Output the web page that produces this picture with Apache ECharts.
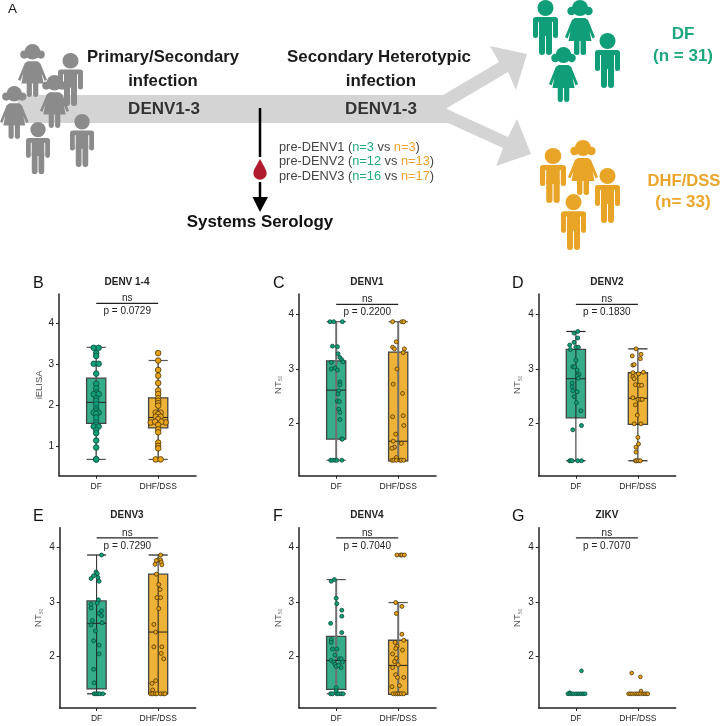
<!DOCTYPE html>
<html><head><meta charset="utf-8">
<style>html,body{margin:0;padding:0;background:#fff}#c{width:720px;height:726px}</style>
<script src="https://cdn.jsdelivr.net/npm/echarts@6/dist/echarts.min.js"></script>
</head><body><div id="c"></div>
<script>
const categories = ['DF', 'DHF/DSS'];
const panelNames = ['DENV 1-4', 'DENV1', 'DENV2', 'DENV3', 'DENV4', 'ZIKV'];
const panelLetters = ['B', 'C', 'D', 'E', 'F', 'G'];
const pValues = ['p = 0.0729', 'p = 0.2200', 'p = 0.1830', 'p = 0.7290', 'p = 0.7040', 'p = 0.7070'];
const yTickValues = [[1, 2, 3, 4], [2, 3, 4], [2, 3, 4], [2, 3, 4], [2, 3, 4], [2, 3, 4]];

// box summaries: [low whisker, q1, median, q3, high whisker]
const boxB = [[0.69, 1.57, 2.08, 2.67, 3.42], [0.69, 1.46, 1.71, 2.19, 3.10]];
const boxC = [[1.32, 1.71, 2.61, 3.15, 3.87], [1.31, 1.31, 1.67, 3.31, 3.87]];
const boxD = [[1.31, 2.10, 2.82, 3.36, 3.69], [1.31, 1.98, 2.46, 2.93, 3.37]];
const boxE = [[1.32, 1.41, 2.61, 3.02, 3.86], [1.32, 1.32, 2.45, 3.51, 3.86]];
const boxF = [[1.32, 1.40, 1.93, 2.37, 3.41], [1.31, 1.31, 1.84, 2.30, 2.99]];
const boxG = [null, null];

// points: [sideways spread in category units, value]
const ptsB_DF = [[-.04,3.41],[.04,3.41],[0,3.28],[0,3.21],[-.04,3.02],[.04,3.02],[0,2.78],[0,2.53],[0,2.42],[0,2.32],[-.04,2.28],[.04,2.28],[0,2.18],[0,2.12],[0,2.03],[0,1.93],[0,1.88],[-.04,1.83],[.04,1.83],[0,1.80],[0,1.61],[0,1.53],[-.04,1.49],[.04,1.49],[0,1.41],[0,1.33],[0,1.15],[0,.98],[0,.69],[0,.69],[0,1.71]];
const ptsB_DHF = [[0,3.28],[0,3.10],[0,2.87],[0,2.73],[0,2.55],[0,2.37],[0,2.28],[0,2.18],[0,2.12],[0,2.06],[0,2.0],[-.04,1.83],[.04,1.83],[0,1.79],[-.04,1.73],[.04,1.73],[0,1.67],[-.12,1.59],[.12,1.59],[-.05,1.61],[.05,1.61],[0,1.53],[0,1.42],[0,1.35],[0,1.10],[0,1.02],[0,.96],[-.04,.69],[.04,.69]];
const ptsC_DF = [[-.1,3.87],[-.04,3.87],[.1,3.87],[-.06,3.42],[.02,3.41],[.03,3.28],[.06,3.21],[.09,3.17],[.11,3.13],[-.08,3.12],[-.08,3.0],[-.02,3.02],[.02,2.98],[.06,2.76],[.06,2.71],[.04,2.6],[.03,2.54],[.02,2.41],[.05,2.40],[.04,2.26],[.06,2.2],[.06,2.07],[.09,1.71],[.1,1.71],[-.09,1.32],[-.06,1.32],[-.02,1.32],[.01,1.32],[.09,1.32]];
const ptsC_DHF = [[-.09,3.87],[.06,3.87],[.09,3.87],[-.03,3.50],[-.09,3.40],[-.06,3.37],[.1,3.37],[.08,3.30],[-.02,3.0],[-.08,2.72],[.07,2.55],[.08,2.14],[-.09,2.12],[.09,1.96],[-.04,1.80],[-.08,1.67],[.05,1.63],[-.06,1.56],[-.1,1.54],[-.03,1.37],[-.1,1.32],[-.07,1.32],[-.03,1.32],[.03,1.32],[.05,1.32],[.09,1.32]];
const ptsD_DF = [[-.03,3.66],[.03,3.69],[.03,3.57],[-.03,3.49],[0,3.40],[.04,3.40],[-.1,3.44],[-.09,3.36],[0,3.16],[-.05,3.04],[-.02,3.04],[.02,2.98],[.05,2.9],[.02,2.87],[.04,2.83],[-.06,2.74],[-.06,2.67],[-.05,2.6],[.02,2.58],[-.03,2.49],[.01,2.38],[.08,2.23],[.09,1.96],[-.05,1.88],[-.1,1.31],[-.08,1.31],[-.06,1.31],[.03,1.31],[.09,1.31]];
const ptsD_DHF = [[-.03,3.37],[-.09,3.24],[.05,3.27],[.04,3.19],[-.08,3.07],[-.06,3.08],[-.08,2.93],[.09,2.94],[.01,2.91],[-.08,2.86],[-.06,2.82],[-.04,2.71],[.02,2.70],[.06,2.7],[-.08,2.47],[0,2.44],[.04,2.44],[.07,2.44],[-.04,2.34],[-.01,2.15],[-.06,1.99],[.05,1.99],[0,1.74],[.01,1.62],[-.03,1.56],[-.03,1.47],[-.04,1.31],[-.02,1.31],[.01,1.31],[.04,1.31]];
const ptsE_DF = [[.08,3.86],[-.01,3.55],[.01,3.52],[-.05,3.48],[-.09,3.43],[.02,3.45],[.04,3.38],[.03,3.04],[.01,2.98],[-.09,2.96],[-.09,2.89],[.08,2.84],[.04,2.79],[.08,2.75],[.09,2.62],[-.07,2.66],[-.09,2.58],[-.02,2.47],[-.05,2.29],[.04,2.21],[.04,2.05],[-.05,1.77],[-.04,1.52],[-.04,1.32],[-.01,1.32],[.02,1.32],[.05,1.32],[.1,1.32]];
const ptsE_DHF = [[.04,3.86],[0,3.77],[-.03,3.76],[.04,3.77],[-.05,3.69],[.05,3.73],[.06,3.68],[-.03,3.51],[.01,3.32],[.03,3.23],[-.02,3.08],[.04,3.08],[.01,2.88],[-.07,2.59],[-.04,2.45],[-.07,2.18],[.06,2.18],[.05,2.06],[.09,1.96],[-.04,1.56],[-.1,1.51],[-.09,1.39],[-.12,1.32],[-.09,1.32],[-.05,1.32],[-.02,1.32],[.04,1.32],[.08,1.32],[.11,1.32]];
const ptsF_DF = [[-.03,3.41],[-.08,3.38],[0,3.07],[.01,2.97],[.09,2.85],[.09,2.74],[-.09,2.61],[.09,2.44],[-.08,2.31],[-.08,2.26],[-.06,2.14],[.01,2.14],[-.02,2.03],[-.08,1.93],[.05,1.96],[.08,1.96],[-.04,1.90],[.1,1.90],[-.02,1.86],[.08,1.8],[0,1.82],[.04,1.84],[0,1.43],[0,1.37],[-.09,1.32],[-.06,1.32],[.01,1.32],[.04,1.32],[.08,1.32],[.11,1.32]];
const ptsF_DHF = [[-.02,3.86],[.04,3.86],[.06,3.86],[.1,3.86],[-.04,2.99],[.06,2.92],[-.03,2.79],[.06,2.41],[.09,2.30],[-.05,2.26],[-.02,2.19],[-.04,2.15],[.07,2.12],[-.09,2.05],[-.03,1.97],[-.06,1.91],[0,1.85],[-.09,1.8],[-.04,1.67],[-.01,1.62],[.09,1.62],[.02,1.47],[-.1,1.45],[-.08,1.32],[-.04,1.32],[-.01,1.32],[.02,1.32],[.05,1.32],[.09,1.32]];
const ptsG_DF = [[.09,1.74],[-.1,1.34],[-.13,1.32],[-.1,1.32],[-.07,1.32],[-.04,1.32],[0,1.32],[.03,1.32],[.06,1.32],[.09,1.32],[.12,1.32],[.15,1.32]];
const ptsG_DHF = [[-.1,1.70],[.04,1.63],[.05,1.37],[-.15,1.32],[-.12,1.32],[-.09,1.32],[-.05,1.32],[-.02,1.32],[.01,1.32],[.04,1.32],[.08,1.32],[.11,1.32],[.14,1.32],[.16,1.32]];

const boxes = [boxB, boxC, boxD, boxE, boxF, boxG];
const points = [[ptsB_DF, ptsB_DHF], [ptsC_DF, ptsC_DHF], [ptsD_DF, ptsD_DHF], [ptsE_DF, ptsE_DHF], [ptsF_DF, ptsF_DHF], [ptsG_DF, ptsG_DHF]];

const layouts = [
  {l:59, t:294, w:137, h:181.7, ymin:.293, ymax:4.72, br:4.49, dot:5.6, stem:'#555', sw:1.5, tx:127, lx:33, ly:276, yname:'iELISA', ng:14},
  {l:299, t:294, w:137, h:181.7, ymin:1.035, ymax:4.38, br:4.19, dot:4, stem:'#6f6f6f', sw:2, tx:367, lx:273, ly:276, yname:'NT{s|50}', ng:16},
  {l:538.7, t:294, w:137, h:181.7, ymin:1.035, ymax:4.38, br:4.19, dot:4, stem:'#222', sw:1, tx:607, lx:512, ly:276, yname:'NT{s|50}', ng:16},
  {l:59.7, t:527.7, w:136, h:180.3, ymin:1.06, ymax:4.36, br:4.175, dot:4, stem:'#222', sw:1, tx:127, lx:33, ly:509, yname:'NT{s|50}', ng:16},
  {l:299, t:527.7, w:137, h:180.3, ymin:1.06, ymax:4.36, br:4.175, dot:4, stem:'#6f6f6f', sw:2, tx:367, lx:273, ly:509, yname:'NT{s|50}', ng:16},
  {l:538.7, t:527.7, w:137, h:180.3, ymin:1.06, ymax:4.36, br:4.175, dot:3.7, stem:'#222', sw:1, tx:607, lx:512, ly:509, yname:'NT{s|50}', ng:16}
];
const GREEN='#0f9e78', ORANGE='#e9a319', FONT='"Liberation Sans", Arial, sans-serif';
const BOXFILL=['#35ad8a','#eeb236'], DOTEDGE=['#0b4c3b','#4a360a'];

const grid=[], xAxis=[], yAxis=[], series=[], title=[];
layouts.forEach((p,i)=>{
  grid.push({left:p.l, top:p.t, width:p.w, height:p.h});
  xAxis.push({gridIndex:i, type:'value', min:.4, max:2.61, splitLine:{show:false},
    axisLine:{lineStyle:{color:'#222',width:1.5}}, axisTick:{length:3,lineStyle:{color:'#222',width:1},customValues:[1,2]},
    axisLabel:{customValues:[1,2], margin:6, fontSize:8.5, color:'#222', fontFamily:FONT, formatter:v=>categories[v-1]||''}});
  yAxis.push({gridIndex:i, type:'value', min:p.ymin, max:p.ymax, splitLine:{show:false},
    name:p.yname, nameLocation:'middle', nameGap:p.ng, nameRotate:90,
    nameTextStyle:{fontSize:9.5,color:'#555',fontFamily:FONT,rich:{s:{fontSize:5,color:'#777',fontFamily:FONT,verticalAlign:'bottom'}}},
    axisLine:{show:true,lineStyle:{color:'#222',width:1.5}}, axisTick:{show:true,length:3,lineStyle:{color:'#222',width:1},customValues:yTickValues[i]},
    axisLabel:{customValues:yTickValues[i], margin:5, fontSize:10, color:'#222', fontFamily:FONT}});
  title.push({text:panelNames[i], left:p.tx, top:p.t-17, textAlign:'center', padding:0,
    textStyle:{fontSize:10,fontWeight:'bold',color:'#222',fontFamily:FONT}});
  title.push({text:panelLetters[i], left:p.lx, top:p.ly, padding:0,
    textStyle:{fontSize:16,fontWeight:'normal',color:'#111',fontFamily:FONT}});
  categories.forEach((c,k)=>{
    const b=boxes[i][k];
    if(b) series.push({type:'custom', name:c+' box', xAxisIndex:i, yAxisIndex:i, z:2, silent:true,
      data:[[k+1,...b]], encode:{x:0,y:[1,2,3,4,5]},
      renderItem:(params,api)=>{
        const x=api.value(0), hw=api.size([.31,0])[0]/2;
        const P=v=>api.coord([x,v]);
        const [wl,q1,md,q3,wh]=[1,2,3,4,5].map(d=>P(api.value(d)));
        const cx=wl[0], ln=(x1,y1,x2,y2,col,w)=>({type:'line',shape:{x1,y1,x2,y2},style:{stroke:col,lineWidth:w}});
        return {type:'group',children:[
          {type:'rect',shape:{x:cx-hw,y:q3[1],width:2*hw,height:q1[1]-q3[1]},style:{fill:BOXFILL[k],stroke:'#444',lineWidth:1.3}},
          ln(cx,wl[1],cx,wh[1],p.stem,p.sw),
          ln(cx-hw,wl[1],cx+hw,wl[1],p.stem==='#222'?'#222':'#555',1.2),
          ln(cx-hw,wh[1],cx+hw,wh[1],p.stem==='#222'?'#222':'#555',1.2),
          ln(cx-hw,md[1],cx+hw,md[1],'#222',1)
        ]};
      }});
    series.push({type:'scatter', name:c, xAxisIndex:i, yAxisIndex:i, z:3, silent:true, symbolSize:p.dot,
      data:points[i][k].map(q=>[k+1+q[0],q[1]]),
      itemStyle:{color:k?ORANGE:GREEN,borderColor:DOTEDGE[k],borderWidth:.8,opacity:1}});
  });
  series.push({type:'custom', name:'bracket', xAxisIndex:i, yAxisIndex:i, z:4, silent:true,
    data:[[1,2,p.br]], encode:{x:[0,1],y:2},
    renderItem:(params,api)=>{
      const a=api.coord([api.value(0),api.value(2)]), b=api.coord([api.value(1),api.value(2)]), m=(a[0]+b[0])/2;
      const tx=(t,y)=>({type:'text',x:m,y,style:{text:t,fontSize:10,fill:'#222',fontFamily:FONT,textAlign:'center',textVerticalAlign:'middle'}});
      return {type:'group',children:[
        {type:'line',shape:{x1:a[0],y1:a[1],x2:b[0],y2:b[1]},style:{stroke:'#222',lineWidth:1.2}},
        tx('ns',a[1]-5), tx(pValues[i],a[1]+8)]};
    }});
});

// schematic (panel A)
const GREY='#8b8b8b', BAR='#d4d4d4';
function boy(x,y,w,h,fill){const sx=w/25,sy=h/55;return {type:'group',x,y,scaleX:sx,scaleY:sy,children:[
  {type:'circle',shape:{cx:12.5,cy:8,r:8},style:{fill}},
  {type:'rect',shape:{x:0,y:17,width:25,height:5,r:[3,3,0,0]},style:{fill}},
  {type:'rect',shape:{x:0,y:18,width:5,height:20,r:2.5},style:{fill}},
  {type:'rect',shape:{x:20,y:18,width:5,height:20,r:2.5},style:{fill}},
  {type:'rect',shape:{x:6,y:18,width:13,height:18},style:{fill}},
  {type:'rect',shape:{x:6,y:30,width:6,height:25,r:3},style:{fill}},
  {type:'rect',shape:{x:13,y:30,width:6,height:25,r:3},style:{fill}}]};}
function girl(x,y,w,h,fill){const sx=w/30,sy=h/55;return {type:'group',x,y,scaleX:sx,scaleY:sy,children:[
  {type:'circle',shape:{cx:15,cy:8,r:8},style:{fill}},
  {type:'circle',shape:{cx:6.5,cy:11,r:4.2},style:{fill}},
  {type:'circle',shape:{cx:23.5,cy:11,r:4.2},style:{fill}},
  {type:'polygon',shape:{points:[[10,18],[20,18],[23,20],[30,37],[27.5,38.5],[24.5,31],[26.5,41],[3.5,41],[5.5,31],[2.5,38.5],[0,37],[7,20]]},style:{fill}},
  {type:'rect',shape:{x:9,y:39,width:5.4,height:16,r:2.5},style:{fill}},
  {type:'rect',shape:{x:15.6,y:39,width:5.4,height:16,r:2.5},style:{fill}}]};}
function label(text,x,y,size,weight,fill){return {type:'text',x,y,style:{text,fontSize:size,fontWeight:weight,fill,fontFamily:FONT,textAlign:'center',textVerticalAlign:'middle'}};}
function nLine(a,b,c,y){return {type:'text',x:279,y,style:{text:`{g|${a} (}{t|${b}}{g| vs }{o|${c}}{g|)}`,fontFamily:FONT,textVerticalAlign:'middle',
  rich:{g:{fontSize:12.8,fill:'#444',fontFamily:FONT},t:{fontSize:12.8,fill:'#20a882',fontFamily:FONT},o:{fontSize:12.8,fill:'#f0a12c',fontFamily:FONT}}}};}
const graphic=[
  {type:'polygon',shape:{points:[[18,95],[443,95],[499,62],[490,46],[527,54],[516,90],[508,72],[447,108],[447,109],[508,137],[517,119],[531,154],[496,166],[503,148],[448,123],[18,123]]},style:{fill:BAR}},
  girl(18,44,29,53,GREY), boy(58,53,25,53,GREY), girl(40,75,29,53,GREY), girl(0,86,28.5,53,GREY), boy(26,122,24,52,GREY), boy(70,114,24,53,GREY),
  boy(533,0,25,55,GREEN), girl(565,0,30,55,GREEN), boy(595,33,25,55,GREEN), girl(549,47,29,55,GREEN),
  boy(540,148,26,55,'#e8a426'), girl(568,140,30,55,'#e8a426'), boy(595,168,25,55,'#e8a426'), boy(561,194,25,56,'#e8a426'),
  {type:'text',x:8,y:2,style:{text:'A',fontSize:13.5,fill:'#111',fontFamily:FONT}},
  label('Primary/Secondary',163,57,16.7,'bold','#1a1a1a'), label('infection',163,81,16.7,'bold','#1a1a1a'),
  label('DENV1-3',164,109,17,'bold','#333'),
  label('Secondary Heterotypic',379,57,16.9,'bold','#1a1a1a'), label('infection',381,81,16.9,'bold','#1a1a1a'),
  label('DENV1-3',381,109,17,'bold','#333'),
  {type:'line',shape:{x1:260,y1:108,x2:260,y2:157},style:{stroke:'#000',lineWidth:2.5}},
  {type:'polygon',shape:{points:[[260,159],[265,168],[253.6,172],[255,168]]},style:{fill:'#b01c2e'}},
  {type:'circle',shape:{cx:260,cy:173,r:6.7},style:{fill:'#b01c2e'}},
  {type:'line',shape:{x1:260,y1:182,x2:260,y2:198},style:{stroke:'#000',lineWidth:2.5}},
  {type:'polygon',shape:{points:[[252.5,197],[268,197],[260,212]]},style:{fill:'#000'}},
  nLine('pre-DENV1','n=3','n=3',147), nLine('pre-DENV2','n=12','n=13',161), nLine('pre-DENV3','n=16','n=17',176),
  label('Systems Serology',260,222,16.9,'bold','#111'),
  label('DF',683,34,17,'bold','#1aa67f'), label('(n = 31)',683,56,17,'bold','#1aa67f'),
  label('DHF/DSS',684,181,16.6,'bold','#eaa52a'), label('(n= 33)',683,202,17,'bold','#eaa52a')
];

const chart=echarts.init(document.getElementById('c'),null,{renderer:'canvas'});
chart.setOption({animation:false,backgroundColor:'#fff',title,grid,xAxis,yAxis,series,graphic,tooltip:{show:false},legend:{show:false}});
</script></body></html>
